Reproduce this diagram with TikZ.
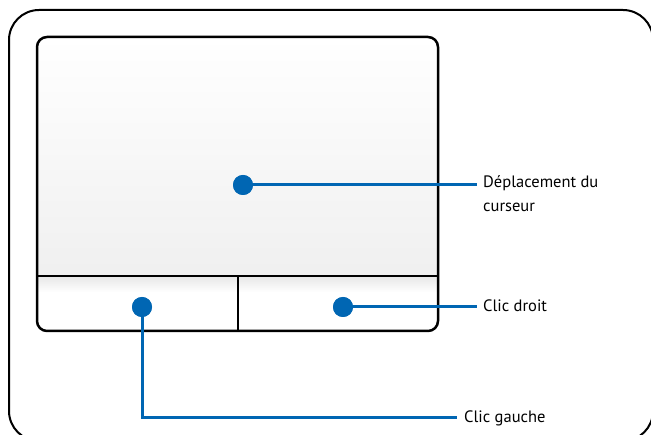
\documentclass[tikz,border=0pt]{standalone}
\usepackage{fontspec}
\setmainfont{PT Sans}
\definecolor{asusblue}{HTML}{0066B3}
\begin{document}
\begin{tikzpicture}[x=1pt,y=-1pt,
  frame/.style={line width=2pt,rounded corners=30pt},
  pad/.style={line width=2.5pt,rounded corners=10pt},
  padline/.style={line width=2.5pt},
  dot/.style={circle,fill=asusblue,inner sep=0pt,minimum size=20pt},
  conn/.style={asusblue,line width=3pt},
  lbl/.style={inner sep=0pt,align=left,font=\fontsize{16.5}{24}\selectfont}]
\useasboundingbox (0,0) rectangle (651,435);
\begin{scope}
\clip (0,0) rectangle (651,435);
\draw[frame] (9,10) rectangle (653,441);
\end{scope}
% touchpad
\begin{scope}
\clip[rounded corners=10pt] (37,37) rectangle (438,331);
\shade[top color=white,bottom color=black!6] (37,37) rectangle (438,276);
\fill[white] (37,276) rectangle (438,331);
\shade[top color=black!9,bottom color=white] (37,277) rectangle (438,292);
\end{scope}
\draw[pad] (37,37) rectangle (438,331);
\draw[padline] (37,276) -- (438,276);
\draw[padline] (238,276) -- (238,331);
% dots
\node[dot] (d1) at (243,185) {};
\node[dot] (d2) at (343,307) {};
\node[dot] (d3) at (142,307) {};
% labels
\node[lbl,anchor=base west] (l1) at (483,212) {Déplacement du\\curseur};
\node[lbl,anchor=base west] (l2) at (483,312) {Clic droit};
\node[lbl,anchor=base west] (l3) at (464,423) {Clic gauche};
\coordinate (e1) at (477,185);
\coordinate (e2) at (477,307);
\coordinate (k3) at (142,418);
\coordinate (e3) at (457,418);
\draw[conn] (d1.center) -- (e1);
\draw[conn] (d2.center) -- (e2);
\draw[conn] (d3.center) -- (k3) -- (e3);
\node[dot] at (d1) {};
\node[dot] at (d2) {};
\node[dot] at (d3) {};
\end{tikzpicture}
\end{document}
